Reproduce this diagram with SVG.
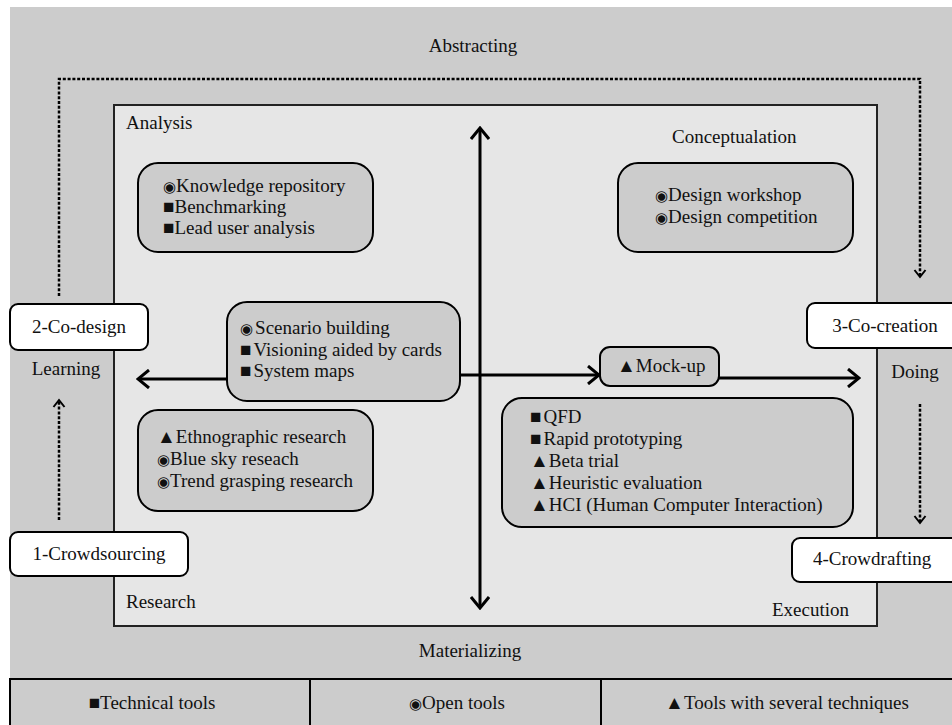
<svg xmlns="http://www.w3.org/2000/svg" width="952" height="725" viewBox="0 0 952 725">
<defs>
<style>
text { font-family: "Liberation Serif", "Times New Roman", "DejaVu Serif", serif; font-size: 19px; fill: #111; }
.c { text-anchor: middle; }
.e { text-anchor: end; }
.o { font-family: "DejaVu Sans", sans-serif; font-size: 15px; }
.tool { fill: #cccccc; stroke: #000; stroke-width: 2; }
.node { fill: #ffffff; stroke: #000; stroke-width: 2; }
.solid { fill: none; stroke: #000; stroke-width: 3; }
.dot { fill: none; stroke: #000; stroke-width: 2.5; stroke-dasharray: 3 1.8; }
</style>
<marker id="chev" viewBox="0 0 20 20" refX="18" refY="10" markerWidth="20" markerHeight="20" markerUnits="userSpaceOnUse" orient="auto-start-reverse">
<path d="M7,1 L18,10 L7,19" fill="none" stroke="#000" stroke-width="3"/>
</marker>
<marker id="small" viewBox="0 0 14 14" refX="12" refY="7" markerWidth="14" markerHeight="14" markerUnits="userSpaceOnUse" orient="auto">
<path d="M5,1.5 L12,7 L5,12.5" fill="none" stroke="#000" stroke-width="2"/>
</marker>
</defs>
<rect x="0" y="0" width="952" height="725" fill="#ffffff"/>
<rect x="10" y="7" width="942" height="672" fill="#cccccc"/>
<g id="legend">
<rect x="10" y="679" width="960" height="60" fill="#cccccc" stroke="#000" stroke-width="2"/>
<line x1="310" y1="679" x2="310" y2="725" stroke="#000" stroke-width="2"/>
<line x1="601" y1="679" x2="601" y2="725" stroke="#000" stroke-width="2"/>
<text class="c" x="152" y="709">■Technical tools</text>
<text class="c" x="457" y="709"><tspan class="o">◉</tspan>Open tools</text>
<text class="c" x="787" y="709">▲Tools with several techniques</text>
</g>
<g id="frame">
<rect x="114" y="105" width="763" height="521" fill="#e6e6e6" stroke="#222" stroke-width="2"/>
<text class="c" x="473" y="52">Abstracting</text>
<text class="c" x="470" y="657">Materializing</text>
<text x="126" y="129">Analysis</text>
<text x="672" y="143">Conceptualation</text>
<text x="126" y="608">Research</text>
<text class="e" x="849" y="616">Execution</text>
<text class="c" x="66" y="375">Learning</text>
<text class="c" x="915" y="378">Doing</text>
</g>
<g id="connectors">
<path class="dot" d="M59,296 V79 H920 V277" marker-end="url(#small)"/>
<path class="dot" d="M59,520 V400" marker-end="url(#small)"/>
<path class="dot" d="M920,404 V523" marker-end="url(#small)"/>
<path class="solid" d="M480,128 V608" marker-start="url(#chev)" marker-end="url(#chev)"/>
<path class="solid" d="M227,379 H138" marker-end="url(#chev)"/>
<path class="solid" d="M460,375 H599" marker-end="url(#chev)"/>
<path class="solid" d="M719,378 H859" marker-end="url(#chev)"/>
</g>
<g id="analysis-tools">
<rect class="tool" x="138" y="163" width="235" height="89" rx="20"/>
<text x="163" y="192"><tspan class="o">◉</tspan>Knowledge repository</text>
<text x="163" y="213">■Benchmarking</text>
<text x="163" y="234">■Lead user analysis</text>
</g>
<g id="conceptualation-tools">
<rect class="tool" x="618" y="163" width="235" height="89" rx="20"/>
<text x="655" y="201"><tspan class="o">◉</tspan>Design workshop</text>
<text x="655" y="223"><tspan class="o">◉</tspan>Design competition</text>
</g>
<g id="scenario-tools">
<rect class="tool" x="227" y="302" width="233" height="99" rx="20"/>
<text x="240" y="334"><tspan class="o">◉</tspan><tspan dx="2">Scenario building</tspan></text>
<text x="240" y="356">■<tspan dx="2">Visioning aided by cards</tspan></text>
<text x="240" y="377">■<tspan dx="2">System maps</tspan></text>
</g>
<g id="research-tools">
<rect class="tool" x="138" y="410" width="235" height="101" rx="20"/>
<text x="157" y="443">▲Ethnographic research</text>
<text x="157" y="465"><tspan class="o">◉</tspan>Blue sky reseach</text>
<text x="157" y="487"><tspan class="o">◉</tspan>Trend grasping research</text>
</g>
<g id="mockup">
<rect class="tool" x="600" y="347" width="119" height="39" rx="10"/>
<text x="617" y="372">▲Mock-up</text>
</g>
<g id="execution-tools">
<rect class="tool" x="502" y="398" width="351" height="129" rx="20"/>
<text x="530" y="423">■<tspan dx="2">QFD</tspan></text>
<text x="530" y="445">■<tspan dx="2">Rapid prototyping</tspan></text>
<text x="530" y="467">▲Beta trial</text>
<text x="530" y="489">▲Heuristic evaluation</text>
<text x="530" y="511">▲HCI (Human Computer Interaction)</text>
</g>
<g id="co-design">
<rect class="node" x="10" y="304" width="138" height="46" rx="8"/>
<text class="c" x="79" y="333">2-Co-design</text>
</g>
<g id="co-creation">
<rect class="node" x="807" y="303" width="170" height="45" rx="8"/>
<text class="c" x="885" y="332">3-Co-creation</text>
</g>
<g id="crowdsourcing">
<rect class="node" x="10" y="532" width="178" height="44" rx="8"/>
<text class="c" x="99" y="560">1-Crowdsourcing</text>
</g>
<g id="crowdrafting">
<rect class="node" x="792" y="538" width="170" height="44" rx="8"/>
<text x="813" y="565">4-Crowdrafting</text>
</g>
</svg>
